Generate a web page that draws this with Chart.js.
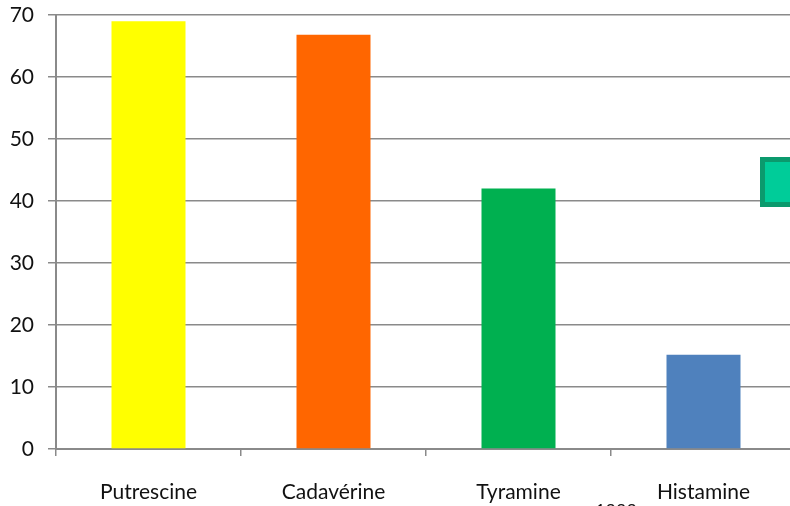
<!DOCTYPE html>
<html>
<head>
<meta charset="utf-8">
<script src="https://cdn.jsdelivr.net/npm/chart.js@4/dist/chart.umd.min.js"></script>
<style>
  html, body { margin: 0; padding: 0; background: #fff; overflow: hidden; }
  #wrap { width: 790px; height: 506px; overflow: hidden; position: relative; }
  canvas { display: block; }
</style>
</head>
<body>
<div id="wrap"><canvas id="c" width="800" height="506"></canvas></div>
<script>
// Biogenic amine levels
const categories = ['Putrescine', 'Cadavérine', 'Tyramine', 'Histamine'];
const values = [69, 66.8, 42, 15.2];
const barColors = ['#FFFF00', '#FF6600', '#00B050', '#4F81BD'];
const yTicks = [0, 10, 20, 30, 40, 50, 60, 70];
const footnote = '1999';

const FONT = 'Lato, "Open Sans", sans-serif';
const GRID = '#8a8a8a';
const TEXT = '#111111';

// Legend swatch partly off the right edge, plus the footnote below the axis
const extras = {
  id: 'extras',
  afterDraw(chart) {
    const ctx = chart.ctx;
    ctx.save();
    ctx.fillStyle = '#0b9a6d';
    ctx.fillRect(760, 157, 60, 50);
    ctx.fillStyle = '#00CC99';
    ctx.fillRect(765, 162, 50, 40);
    ctx.fillStyle = TEXT;
    ctx.font = '18px ' + FONT;
    ctx.textAlign = 'center';
    ctx.textBaseline = 'alphabetic';
    ctx.fillText(footnote, 616, 517);
    ctx.restore();
  }
};

new Chart(document.getElementById('c'), {
  type: 'bar',
  data: {
    labels: categories,
    datasets: [{
      data: values,
      backgroundColor: barColors,
      borderWidth: 0,
      barPercentage: 0.4,
      categoryPercentage: 1.0
    }]
  },
  options: {
    responsive: false,
    animation: false,
    devicePixelRatio: 1,
    layout: { padding: { top: 15, right: 4, left: 0, bottom: 0 } },
    plugins: { legend: { display: false }, tooltip: { enabled: false } },
    scales: {
      x: {
        grid: { drawOnChartArea: false, drawTicks: true, tickLength: 7, color: GRID, lineWidth: 1.5, offset: true },
        border: { display: true, color: GRID, width: 2 },
        ticks: { color: TEXT, font: { family: FONT, size: 21 }, padding: 24, maxRotation: 0 },
        afterFit(axis) { axis.height = 57; axis.paddingLeft = 0; axis.paddingRight = 0; }
      },
      y: {
        min: 0, max: 70,
        afterBuildTicks(axis) { axis.ticks = yTicks.map(v => ({ value: v })); },
        grid: { color: GRID, lineWidth: 1.5, tickLength: 8 },
        border: { display: true, color: GRID, width: 2 },
        ticks: { color: TEXT, font: { family: FONT, size: 21 }, padding: 14 },
        afterFit(axis) { axis.width = 56; axis.paddingTop = 0; axis.paddingBottom = 0; }
      }
    }
  },
  plugins: [extras]
});
</script>
</body>
</html>
